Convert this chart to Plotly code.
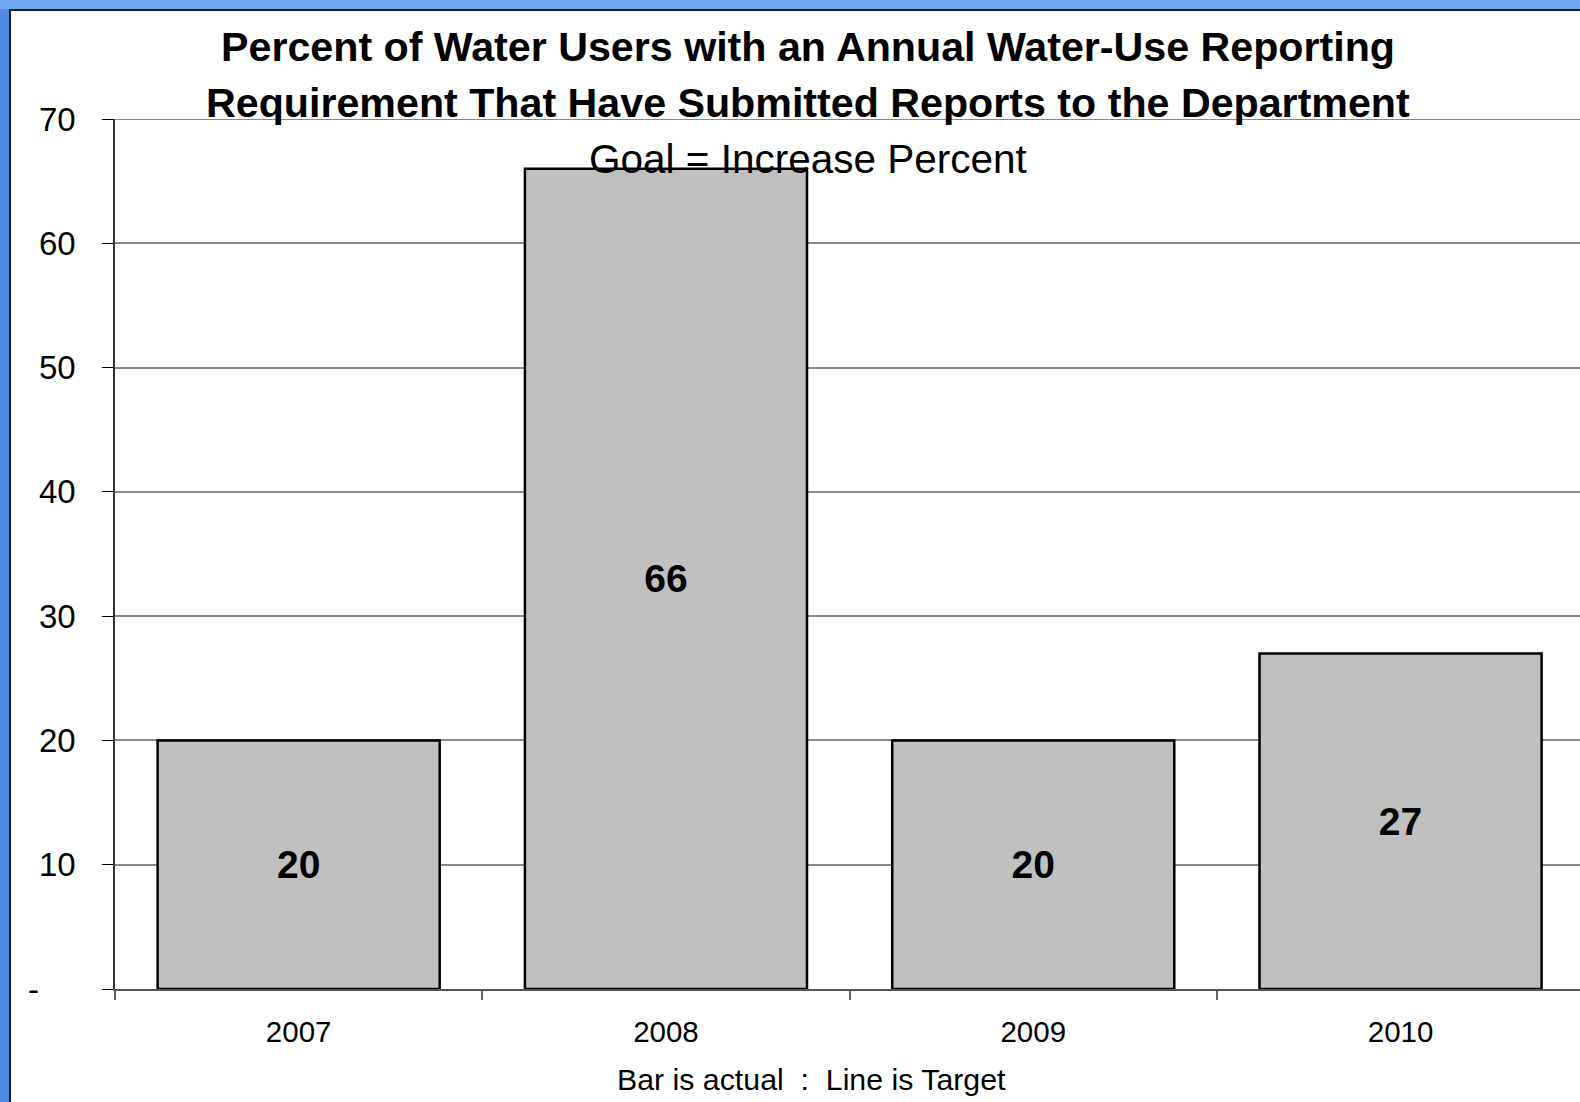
import plotly.graph_objects as go

# Reporting years and percent of water users that submitted reports
years = ["2007", "2008", "2009", "2010"]
percent_reported = [20, 66, 20, 27]

y_tick_vals = [0, 10, 20, 30, 40, 50, 60, 70]
y_tick_text = ["-\u00a0\u00a0\u00a0\u00a0", "10", "20", "30", "40", "50", "60", "70"]

title_lines = [
    "Percent of Water Users with an Annual Water-Use Reporting",
    "Requirement That Have Submitted Reports to the Department",
]
subtitle = "Goal = Increase Percent"
x_title = "Bar is actual\u00a0\u00a0:\u00a0\u00a0Line is Target"

FONT = "Liberation Sans, Arial, sans-serif"
W, H = 1580, 1102
M_L, M_R, M_T, M_B = 115, 0, 119, 113
PW, PH = W - M_L - M_R, H - M_T - M_B


def px_x(x):
    return (x - M_L) / PW


def px_y(y):
    return (H - M_B - y) / PH


fig = go.Figure()
fig.add_trace(go.Bar(
    x=years,
    y=percent_reported,
    width=0.768,
    marker=dict(color="#c0c0c0", line=dict(color="#000000", width=2.5)),
    text=[str(v) for v in percent_reported],
    textposition="inside",
    insidetextanchor="middle",
    textangle=0,
    constraintext="none",
    insidetextfont=dict(family=FONT, size=39, color="#000000", weight="bold"),
    hoverinfo="skip",
))

shapes = [
    # white slide panel over the blue backdrop
    dict(type="rect", xref="paper", yref="paper", layer="below",
         x0=px_x(10), x1=px_x(1600), y0=px_y(1120), y1=px_y(10),
         fillcolor="#ffffff", line=dict(color="#1a1a1a", width=2)),
    # lighter top band of the backdrop
    dict(type="rect", xref="paper", yref="paper", layer="below",
         x0=px_x(-5), x1=px_x(1600), y0=px_y(9), y1=px_y(-5),
         fillcolor="#6fa6f0", line=dict(width=0)),
    # top gridline at the axis maximum
    dict(type="line", xref="paper", yref="y", layer="below",
         x0=0, x1=1, y0=70, y1=70,
         line=dict(color="#888888", width=2)),
]

annotations = [
    dict(text=f"<b>{title_lines[0]}</b>", x=px_x(808), y=px_y(47), xref="paper", yref="paper",
         showarrow=False, xanchor="center", yanchor="middle",
         font=dict(family=FONT, size=41.2, color="#000000")),
    dict(text=f"<b>{title_lines[1]}</b>", x=px_x(808), y=px_y(103), xref="paper", yref="paper",
         showarrow=False, xanchor="center", yanchor="middle",
         font=dict(family=FONT, size=41.2, color="#000000")),
    dict(text=subtitle, x=px_x(808), y=px_y(159), xref="paper", yref="paper",
         showarrow=False, xanchor="center", yanchor="middle",
         font=dict(family=FONT, size=40.5, color="#000000")),
    dict(text=x_title, x=px_x(811), y=px_y(1079), xref="paper", yref="paper",
         showarrow=False, xanchor="center", yanchor="middle",
         font=dict(family=FONT, size=30.3, color="#000000")),
]

fig.update_layout(
    width=W, height=H,
    margin=dict(l=M_L, r=M_R, t=M_T, b=M_B, pad=0),
    paper_bgcolor="#4f8be6",
    plot_bgcolor="rgba(0,0,0,0)",
    showlegend=False,
    shapes=shapes,
    annotations=annotations,
    bargap=0.232,
)

fig.update_xaxes(
    type="category",
    range=[-0.5, -0.5 + PW / 367.3],
    showgrid=False,
    tickson="boundaries",
    ticks="outside", ticklen=9, tickwidth=1.5, tickcolor="#666666",
    showline=True, linecolor="#555555", linewidth=2,
    tickfont=dict(family=FONT, size=29.5, color="#000000"),
    ticklabelstandoff=16,
)

fig.update_yaxes(
    range=[0, 70],
    tickvals=y_tick_vals, ticktext=y_tick_text,
    showgrid=True, gridcolor="#888888", gridwidth=2,
    zeroline=False,
    ticks="outside", ticklen=11, tickwidth=1.2, tickcolor="#000000",
    showline=True, linecolor="#333333", linewidth=1.5,
    tickfont=dict(family=FONT, size=33, color="#000000"),
    ticklabelstandoff=20,
)

fig.write_html("out.html")
